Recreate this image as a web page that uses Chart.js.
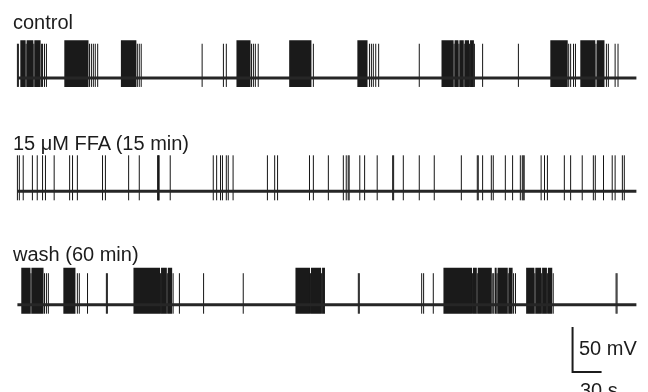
<!DOCTYPE html>
<html>
<head>
<meta charset="utf-8">
<script src="https://cdn.jsdelivr.net/npm/chart.js@4"></script>
<style>
  body { margin: 0; background: #fff; }
  #wrap { position: relative; width: 648px; height: 392px; overflow: hidden;
          font-family: "Liberation Sans", Arial, sans-serif; color: #1c1c1c; }
  #wrap canvas { position: absolute; left: 0; top: 0; }
  .lbl { position: absolute; font-size: 20px; line-height: 20px; white-space: nowrap; }
</style>
</head>
<body>
<div id="wrap">
  <canvas id="traces" width="648" height="392"></canvas>
  <div class="lbl" id="lbl0" style="left:13px; top:12px;"></div>
  <div class="lbl" id="lbl1" style="left:13px; top:133px;"></div>
  <div class="lbl" id="lbl2" style="left:13px; top:244px;"></div>
  <div class="lbl" style="left:579px; top:338px;">50 mV</div>
  <div class="lbl" style="left:580px; top:380px;">30 s</div>
</div>
<script>
// recording labels
const traceNames = ['control', '15 \u03bcM FFA (15 min)', 'wash (60 min)'];

// resting level of each trace on the shared axis (mV), recording length (s)
const restMv = [-51, -177, -303];
const duration = 640;

// bursts: [start, end] in s; spikes: single spike times in s
const controlBursts = [[3, 8.5], [9.5, 16.5], [17.5, 24], [48.5, 73.5], [107, 123], [226.5, 241],
  [281, 304], [351.5, 362], [438.5, 451], [452, 456], [457, 461.5], [462.5, 467], [468, 472],
  [551, 569], [582, 597.5], [599, 607]];
const controlSpikes = [0, 1, 9, 17, 25, 26, 28, 30, 74.5, 76.5, 78.5, 80.5, 83, 124, 126, 128,
  191, 213, 216, 242, 244, 246, 249, 306, 364, 366, 368, 370.5, 373.5, 415.5, 451.5, 456.5, 462,
  467.5, 472.5, 481, 518, 570, 572, 575, 577, 598.2, 609, 611, 618, 621];

const ffaBursts = [];
const ffaSpikes = [0, 2, 6, 15.5, 20.5, 26, 29, 38, 54, 57, 62, 88, 91, 115, 126, 145, 145.5, 146,
  146.5, 158, 202.5, 206, 210, 212, 216, 218, 223, 258.5, 266, 269, 302, 306, 321.5, 337, 340, 342,
  343, 354, 359, 372, 388, 389, 399, 415.5, 431, 459, 475.5, 476.5, 481, 490, 492, 504.5, 512, 520,
  522, 523, 524, 541.5, 545, 548, 565.5, 572, 584, 595.5, 597.5, 606, 615, 618, 625.5, 627.5];

const washBursts = [[4, 13.5], [14.5, 27], [47.5, 60], [120, 147.5], [148.5, 154.5], [155.5, 160],
  [287.5, 302.5], [303.5, 314], [315, 318], [440.5, 470], [471, 475], [476, 490.5], [493.5, 495.5],
  [496.5, 507], [508, 512], [526, 534.5], [535.5, 541.5], [542.5, 547.5], [548.5, 553]];
const washSpikes = [14, 28, 30, 32, 62, 64, 72.5, 92, 93, 148, 155, 161, 167.5, 192.5, 233.5, 303,
  314.5, 352.5, 353.5, 418, 420, 430, 470.5, 475.5, 491.5, 492.5, 496, 507.5, 513, 515, 535, 542,
  548, 554, 619, 620];

// spike amplitudes relative to rest (mV)
const burstPeak = [42, 40, 41];
const spikePeak = [38, 40, 35];
const troughMv = -10;

// scale bar
const scaleBarMv = 50;
const scaleBarS = 30;
const scaleBarAt = { x: 574, y: -377.7 };

const xMin = -18, xMax = 652;
const yMin = -400, yMax = 35.6;
const pxPerMv = 392 / (yMax - yMin);

const allBursts = [controlBursts, ffaBursts, washBursts];
const allSpikes = [controlSpikes, ffaSpikes, washSpikes];

traceNames.forEach((n, i) => { document.getElementById('lbl' + i).textContent = n; });

const datasets = [];
traceNames.forEach((name, i) => {
  const rest = restMv[i];
  datasets.push({
    label: name + ' baseline',
    data: [{ x: 0, y: rest }, { x: duration, y: rest }],
    borderColor: '#262626', borderWidth: 3
  });
  const sp = [];
  allSpikes[i].forEach(t => {
    sp.push({ x: t, y: rest + troughMv }, { x: t, y: rest + spikePeak[i] }, { x: t, y: null });
  });
  datasets.push({
    label: name + ' spikes',
    data: sp, borderColor: '#151515', borderWidth: 1, spanGaps: false
  });
  const bu = [];
  const mid = rest + (burstPeak[i] + troughMv) / 2;
  allBursts[i].forEach(b => {
    bu.push({ x: b[0], y: mid }, { x: b[1], y: mid }, { x: b[1], y: null });
  });
  datasets.push({
    label: name + ' bursts',
    data: bu, borderColor: '#1a1a1a', borderCapStyle: 'butt', spanGaps: false,
    borderWidth: (burstPeak[i] - troughMv) * pxPerMv
  });
});

datasets.push({
  label: 'scale bar',
  data: [
    { x: scaleBarAt.x, y: scaleBarAt.y + scaleBarMv },
    { x: scaleBarAt.x, y: scaleBarAt.y },
    { x: scaleBarAt.x + scaleBarS, y: scaleBarAt.y }
  ],
  borderColor: '#1c1c1c', borderWidth: 2, borderJoinStyle: 'miter', borderCapStyle: 'butt'
});

new Chart(document.getElementById('traces').getContext('2d'), {
  type: 'line',
  data: { datasets: datasets },
  options: {
    responsive: false,
    animation: false,
    layout: { padding: 0 },
    elements: { point: { radius: 0 }, line: { tension: 0 } },
    plugins: { legend: { display: false }, tooltip: { enabled: false } },
    scales: {
      x: { type: 'linear', min: xMin, max: xMax, display: false },
      y: { type: 'linear', min: yMin, max: yMax, display: false }
    }
  }
});
</script>
</body>
</html>
